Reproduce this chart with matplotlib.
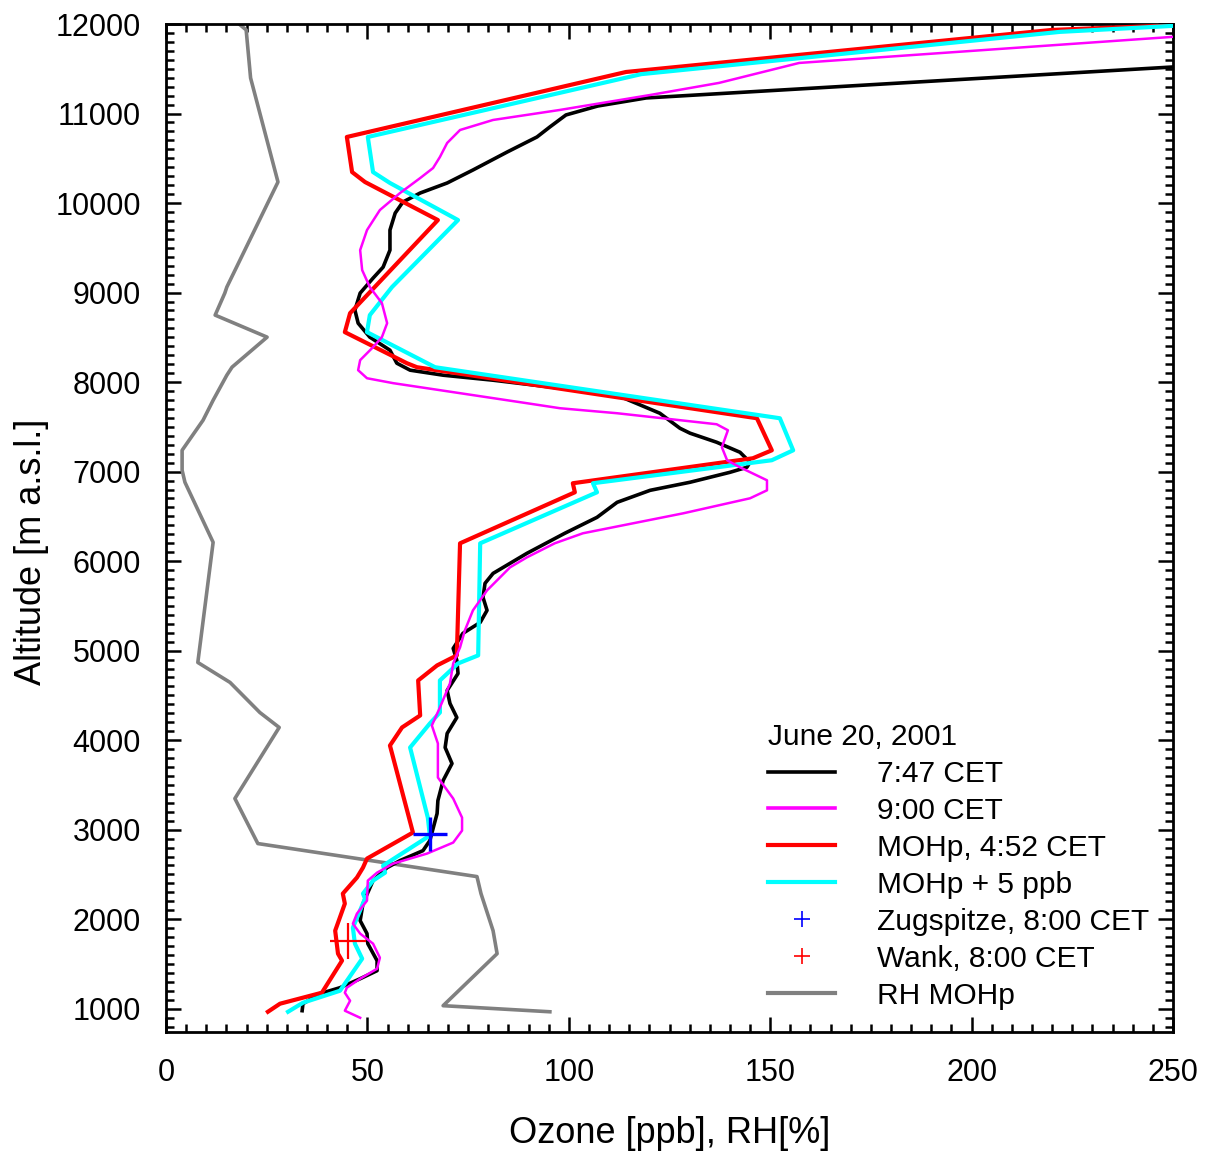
import matplotlib
matplotlib.use("Agg")
import matplotlib.pyplot as plt
from matplotlib.lines import Line2D
from matplotlib.ticker import MultipleLocator

plt.rcParams['font.family'] = ['Liberation Sans', 'DejaVu Sans']

# ---- data (ozone / RH value, altitude m a.s.l.) ----
black_alt = [11540, 11520, 11174, 11084, 10984, 10850, 10738, 10570, 10369, 10224, 10112, 10011,
             9888, 9698, 9474, 9284, 9161, 8994, 8804, 8658, 8502, 8356, 8211, 8133, 8077, 8021,
             7932, 7853, 7652, 7484, 7429, 7328, 7216, 7104, 7048, 6992, 6881, 6791, 6657, 6489,
             6311, 6087, 5863, 5752, 5595, 5450, 5315, 5193, 5025, 4891, 4745, 4555, 4410, 4253,
             4075, 3918, 3739, 3549, 3325, 3180, 2878, 2766, 2655, 2576, 2431, 2174, 1984, 1839,
             1727, 1537, 1425, 1335, 1235, 1168, 1056, 978]
black_o3 = [260, 250.0, 119.2, 107.2, 99.3, 95.3, 92.1, 84.7, 76.2, 69.8, 63.1, 58.8,
            56.9, 55.6, 55.6, 53.9, 51.4, 48.2, 46.9, 47.7, 50.6, 55.6, 57.3, 60.6, 68.8, 81.2,
            97.8, 112.0, 122.6, 127.6, 130.1, 136.7, 142.5, 145.0, 144.2, 140.0, 130.1, 120.2, 112.0, 107.0,
            99.0, 89.6, 81.2, 79.2, 78.7, 79.7, 78.0, 73.7, 71.3, 72.2, 72.5, 69.8, 70.5, 72.2,
            69.8, 69.3, 71.0, 68.8, 67.5, 67.3, 65.5, 63.8, 58.1, 54.9, 51.4, 48.9, 48.2, 49.9,
            50.1, 52.4, 52.4, 48.2, 43.2, 38.2, 34.0, 33.8]

mag_alt = [11856, 11565, 11342, 11207, 11040, 10928, 10816, 10671, 10514, 10391, 10279, 10112,
           9922, 9698, 9474, 9251, 9061, 8882, 8658, 8502, 8390, 8245, 8133, 8043, 7988, 7876,
           7764, 7708, 7652, 7529, 7462, 7272, 7127, 7048, 6903, 6791, 6702, 6534, 6422, 6311,
           6199, 6042, 5930, 5673, 5450, 5226, 5036, 4857, 4634, 4365, 4164, 3963, 3583, 3348,
           3135, 2990, 2856, 2733, 2621, 2520, 2431, 2207, 2062, 1950, 1839, 1727, 1570, 1447,
           1335, 1235, 1179, 1089, 978, 899]
mag_o3 = [249.8, 157.2, 137.3, 120.2, 97.8, 81.2, 73.0, 69.8, 68.0, 66.3, 63.1, 58.1,
          53.1, 49.9, 48.2, 48.7, 50.6, 53.6, 54.9, 53.6, 51.4, 48.2, 47.7, 49.9, 56.4, 73.0,
          89.6, 97.8, 112.0, 136.7, 139.5, 138.0, 139.3, 142.5, 149.2, 149.2, 145.0, 128.4, 115.9, 103.5,
          96.5, 89.6, 85.4, 79.7, 76.2, 74.2, 73.0, 71.3, 70.5, 68.0, 66.0, 67.5, 67.5, 71.3,
          73.5, 73.5, 71.3, 64.8, 56.4, 52.4, 50.1, 49.9, 47.4, 46.4, 48.2, 51.4, 53.1, 52.4,
          48.2, 44.9, 44.4, 45.7, 44.4, 48.2]

red_alt = [11985, 11934, 11464, 10738, 10346, 10235, 9810, 8770, 8558, 8211, 8166, 7596, 7238,
           7149, 6870, 6769, 6199, 4947, 4835, 4667, 4276, 4142, 3940, 2968, 2677, 2576, 2465,
           2286, 2174, 1872, 1615, 1537, 1179, 1056, 966]
red_o3 = [250.0, 220.0, 114.2, 44.9, 46.2, 49.4, 67.5, 45.7, 44.4, 59.8, 62.3, 146.7, 150.4,
          145.7, 101.0, 101.5, 73.0, 72.2, 67.3, 62.6, 63.1, 58.6, 55.6, 61.3, 49.9, 48.9, 47.4,
          43.9, 44.4, 42.0, 42.7, 43.7, 38.7, 28.3, 25.3]

cyan_alt = [11979, 11912, 11440, 10738, 10346, 10224, 9810, 9061, 8748, 8558, 8166, 7596, 7238,
            7127, 6870, 6769, 6199, 4947, 4857, 4667, 4309, 4186, 3918, 3135, 2934, 2599, 2520,
            2431, 2286, 2230, 1906, 1727, 1559, 1201, 1067, 966]
cyan_o3 = [250.0, 221.9, 118.0, 50.1, 51.4, 55.6, 72.5, 56.1, 50.6, 49.9, 66.8, 152.4, 155.7,
           150.4, 106.0, 107.0, 78.0, 77.5, 72.5, 68.0, 68.0, 65.5, 60.6, 65.0, 65.5, 53.9, 54.4,
           51.4, 48.9, 49.4, 46.4, 46.9, 48.7, 43.2, 34.0, 30.3]

rh_alt = [11990, 11934, 11397, 10235, 9061, 8994, 8748, 8502, 8167, 8077, 7797, 7574, 7238,
          7015, 6881, 6210, 4868, 4645, 4309, 4142, 3348, 2845, 2476, 2286, 1872, 1615, 1034, 966]
rh_val = [18.4, 19.9, 21.0, 27.8, 15.1, 14.6, 12.2, 25.1, 16.4, 15.1, 11.7, 9.2, 4.0,
          4.0, 4.7, 11.7, 7.9, 15.9, 23.3, 28.1, 17.1, 22.8, 77.2, 78.2, 81.2, 82.2, 68.8, 95.3]

zug_o3, zug_alt = [65.5], [2957]
wank_o3, wank_alt = [45.2], [1760]

labels = ["7:47 CET", "9:00 CET", "MOHp, 4:52 CET", "MOHp + 5 ppb",
          "Zugspitze, 8:00 CET", "Wank, 8:00 CET", "RH MOHp"]
legend_title = "June 20, 2001"

# ---- figure ----
fig = plt.figure(figsize=(12.11, 11.55), dpi=100)
ax = fig.add_axes([166/1211, 1-1032/1155, (1173-166)/1211, (1032-24)/1155])

ax.plot(rh_val, rh_alt, color='#808080', lw=2.6, zorder=2)
ax.plot(black_o3, black_alt, color='black', lw=2.6, zorder=3)
ax.plot(mag_o3, mag_alt, color='#FF00FF', lw=1.8, zorder=4)
ax.plot(red_o3, red_alt, color='#FF0000', lw=3.0, zorder=3)
ax.plot(cyan_o3, cyan_alt, color='#00FFFF', lw=3.0, zorder=3)
ax.plot(zug_o3, zug_alt, linestyle='none', marker='+', color='#0000FF', ms=25, mew=2.4, zorder=5)
ax.plot(wank_o3, wank_alt, linestyle='none', marker='+', color='#FF0000', ms=26, mew=1.6, zorder=5)

ax.set_xlim(0, 250)
ax.set_ylim(740, 12000)
ax.xaxis.set_major_locator(MultipleLocator(50))
ax.xaxis.set_minor_locator(MultipleLocator(5))
ax.yaxis.set_major_locator(MultipleLocator(1000))
ax.yaxis.set_minor_locator(MultipleLocator(100))
ax.tick_params(which='both', direction='in', top=True, right=True, width=1.8)
ax.tick_params(which='major', length=11, labelsize=22)
ax.tick_params(axis='x', which='major', pad=19)
ax.tick_params(axis='y', which='major', pad=18)
ax.tick_params(which='minor', length=5.5)
for s in ax.spines.values():
    s.set_linewidth(2.0)

ax.set_xlabel("Ozone [ppb], RH[%]", fontsize=26, labelpad=20)
ax.set_ylabel("Altitude [m a.s.l.]", fontsize=26)
ax.yaxis.set_label_coords(-0.116, 0.476)

handles = [Line2D([], [], color='black', lw=2.6),
           Line2D([], [], color='#FF00FF', lw=2.6),
           Line2D([], [], color='#FF0000', lw=3.0),
           Line2D([], [], color='#00FFFF', lw=3.0),
           Line2D([], [], linestyle='none', marker='+', color='#0000FF', ms=12, mew=1.2),
           Line2D([], [], linestyle='none', marker='+', color='#FF0000', ms=12, mew=1.2),
           Line2D([], [], color='#808080', lw=3.0)]
leg = ax.legend(handles, labels, title=legend_title, loc='upper left',
                bbox_to_anchor=(768/1211, 1-723/1155), bbox_transform=fig.transFigure,
                frameon=False, fontsize=21.5, title_fontsize=21.5, handlelength=2.25,
                handletextpad=1.4, labelspacing=0.3, borderpad=0, borderaxespad=0,
                alignment='left')

fig.savefig("out.png", dpi=100)
